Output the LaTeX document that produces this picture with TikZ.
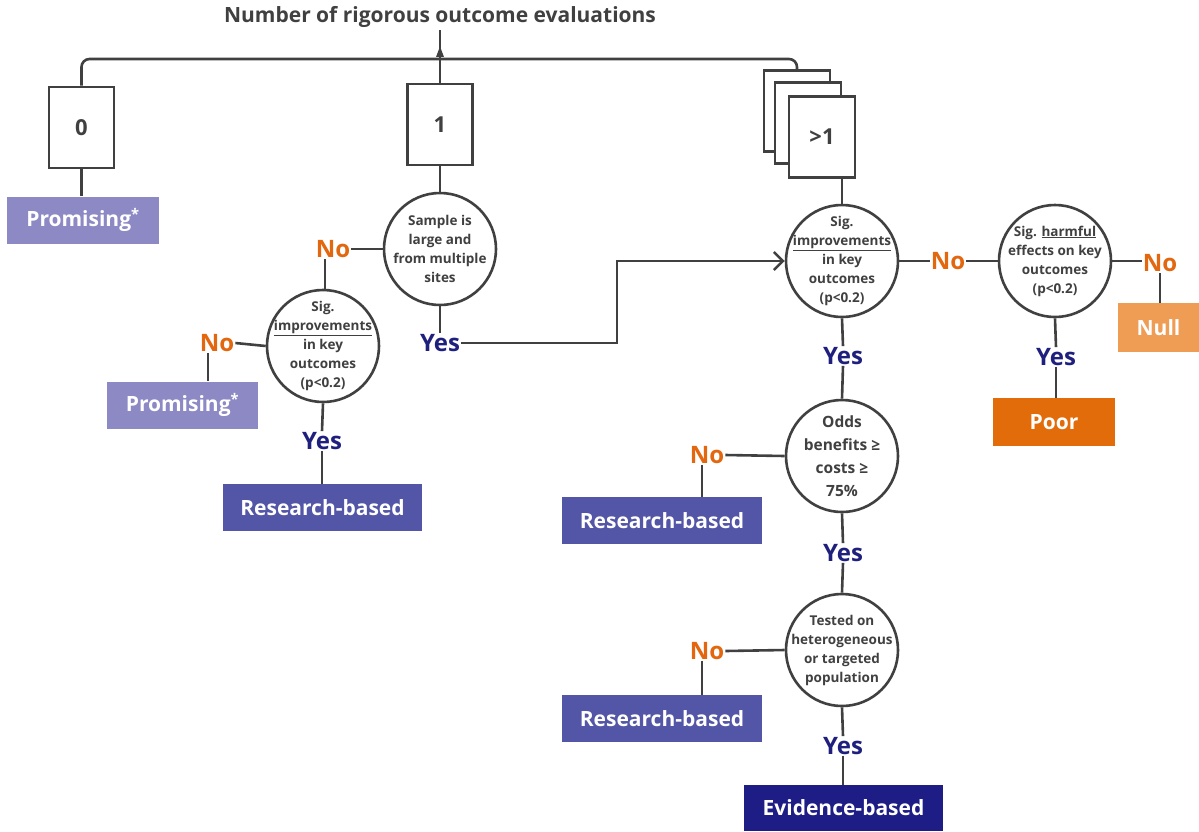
\documentclass[tikz,border=0pt]{standalone}
\usepackage{fontspec}
\setmainfont{Open Sans}
\usetikzlibrary{positioning,calc,arrows.meta,decorations.markings}
\definecolor{lineg}{HTML}{404040}
\definecolor{noorange}{HTML}{E2670F}
\definecolor{yesblue}{HTML}{1F1F7E}
\definecolor{promcol}{HTML}{8C89C5}
\definecolor{rescol}{HTML}{5356A6}
\definecolor{evicol}{HTML}{1D1D85}
\definecolor{poorcol}{HTML}{E36C0A}
\definecolor{nullcol}{HTML}{EF9C55}
\tikzset{
	link/.style={draw=lineg, line width=2.6},
	numbox/.style={draw=lineg, line width=2.6, fill=white, minimum width=65, minimum height=81, inner sep=0, font=\fontsize{22}{26}\selectfont\bfseries, text=lineg},
	testtext/.style={inner sep=0, align=center, font=\fontsize{13.5}{19}\selectfont\bfseries, text=lineg},
	test/.style={circle, draw=lineg, line width=2.6, fill=white, minimum size=112, inner sep=0, label={[testtext]center:#1}},
	testbig/.style={circle, draw=lineg, line width=2.6, fill=white, minimum size=112, inner sep=0, label={[testtext, font=\fontsize{15.5}{23}\selectfont\bfseries]center:#1}},
	verdict/.style={fill=#1, text=white, inner sep=0, minimum height=47, font=\fontsize{21}{25}\selectfont\bfseries},
	no/.style={text=noorange, inner sep=1, font=\fontsize{24}{28}\selectfont\bfseries},
	yes/.style={text=yesblue, inner sep=1, font=\fontsize{24}{28}\selectfont\bfseries},
}
\begin{document}
\begin{tikzpicture}[x=1pt, y=-1pt]
	\useasboundingbox (0,0) rectangle (1199,831);
	\node[inner sep=2, text=lineg, font=\fontsize{21}{25}\selectfont\bfseries] (title) at (440,17) {Number of rigorous outcome evaluations};
	\coordinate (jn) at (440,59);
	
	\node[numbox] (b0) at (81.5,127.5) {0};
	\node[numbox] (b1) at (440,124.5) {1};
	\node[numbox, minimum width=66] (stackA) at (797,111) {};
	\node[numbox, minimum width=66] (stackB) at (808,123) {};
	\node[numbox, minimum width=66] (bmany) at (822,137) {>1};
	
	\node[verdict=promcol, minimum width=152] (prom0) at (83,220) {Promising\textsuperscript{*}};
	
	\node[test={Sample is\\large and\\from multiple\\sites}] (sample) at (440,249) {};
	\node[no] (noS) at (333,249) {No};
	\node[yes] (yesS) at (440,343) {Yes};
	
	\node[test={Sig.\\\underline{improvements}\\in key\\outcomes\\(p<0.2)}] (impL) at (323,346) {};
	\node[no] (noL) at (217,343) {No};
	\node[yes] (yesL) at (322,441) {Yes};
	\node[verdict=promcol, minimum width=151] (prom1) at (182.5,405) {Promising\textsuperscript{*}};
	\node[verdict=rescol, minimum width=199] (resL) at (322.5,507.5) {Research-based};
	
	\node[test={Sig.\\\underline{improvements}\\in key\\outcomes\\(p<0.2)}] (impR) at (842,261) {};
	\node[no] (noR) at (948,261) {No};
	\node[yes] (yesR) at (843,356) {Yes};
	
	\node[test={Sig. \underline{harmful}\\effects on key\\outcomes\\(p<0.2)}] (harm) at (1055,261) {};
	\node[no] (noH) at (1160,263) {No};
	\node[yes] (yesH) at (1056,357) {Yes};
	\node[verdict=nullcol, minimum width=81, minimum height=49] (null) at (1158.5,327.5) {Null};
	\node[verdict=poorcol, minimum width=122, minimum height=48] (poor) at (1054,422) {Poor};
	
	\node[testbig={Odds\\benefits ≥\\costs ≥\\75\%}] (odds) at (842,456) {};
	\node[no] (noO) at (707,455) {No};
	\node[yes] (yesO) at (843,553) {Yes};
	\node[verdict=rescol, minimum width=200] (resO) at (662,520.5) {Research-based};
	
	\node[test={Tested on\\heterogeneous\\or targeted\\population}] (tested) at (842,650) {};
	\node[no] (noT) at (707,651) {No};
	\node[yes] (yesT) at (843,746) {Yes};
	\node[verdict=rescol, minimum width=200] (resT) at (662,718.5) {Research-based};
	\node[verdict=evicol, minimum width=199, minimum height=46] (evi) at (843.5,808) {Evidence-based};
	
	\draw[link, rounded corners=8] (b0.north) |- (jn) -| (stackA.north);
	\draw[link] (b1.north) -- (jn);
	\draw[link, postaction={decorate}, decoration={markings, mark=at position 0.45 with {\arrow{Triangle[length=11,width=7]}}}] (jn) -- (title.south);
	\draw[link] (b0.south) -- (b0.south |- prom0.north);
	\draw[link] (b1.south) -- (sample.north);
	\draw[link] (sample.west) -- (noS.east);
	\draw[link] ([xshift=-8]noS.south) -- ([xshift=-8]noS.south |- impL.north);
	\draw[link] (sample.south) -- (yesS.north);
	\draw[link, -{Straight Barb[length=9,width=18,line width=2.6]}] (yesS.east) -- ++(156,0) |- (impR.west);
	\draw[link] (impL.west) -- (noL.east);
	\draw[link] ([xshift=-9]noL.south) -- ([xshift=-9]noL.south |- prom1.north);
	\draw[link] (impL.south) -- (yesL.north);
	\draw[link] (yesL.south) -- (yesL.south |- resL.north);
	\draw[link] (impR.north) -- (impR.north |- bmany.south);
	\draw[link] (impR.east) -- (noR.west);
	\draw[link] (noR.east) -- (harm.west);
	\draw[link] (harm.east) -- (noH.west |- harm.east);
	\draw[link] (noH.south) -- (noH.south |- null.north);
	\draw[link] (harm.south) -- (yesH.north);
	\draw[link] (yesH.south) -- (yesH.south |- poor.north);
	\draw[link] (impR.south) -- (yesR.north);
	\draw[link] (yesR.south) -- (odds.north);
	\draw[link] (odds.west) -- (noO.east);
	\draw[link] ([xshift=-5]noO.south) -- ([xshift=-5]noO.south |- resO.north);
	\draw[link] (odds.south) -- (yesO.north);
	\draw[link] (yesO.south) -- (tested.north);
	\draw[link] (tested.west) -- (noT.east);
	\draw[link] ([xshift=-5]noT.south) -- ([xshift=-5]noT.south |- resT.north);
	\draw[link] (tested.south) -- (yesT.north);
	\draw[link] (yesT.south) -- (yesT.south |- evi.north);
\end{tikzpicture}
\end{document}
